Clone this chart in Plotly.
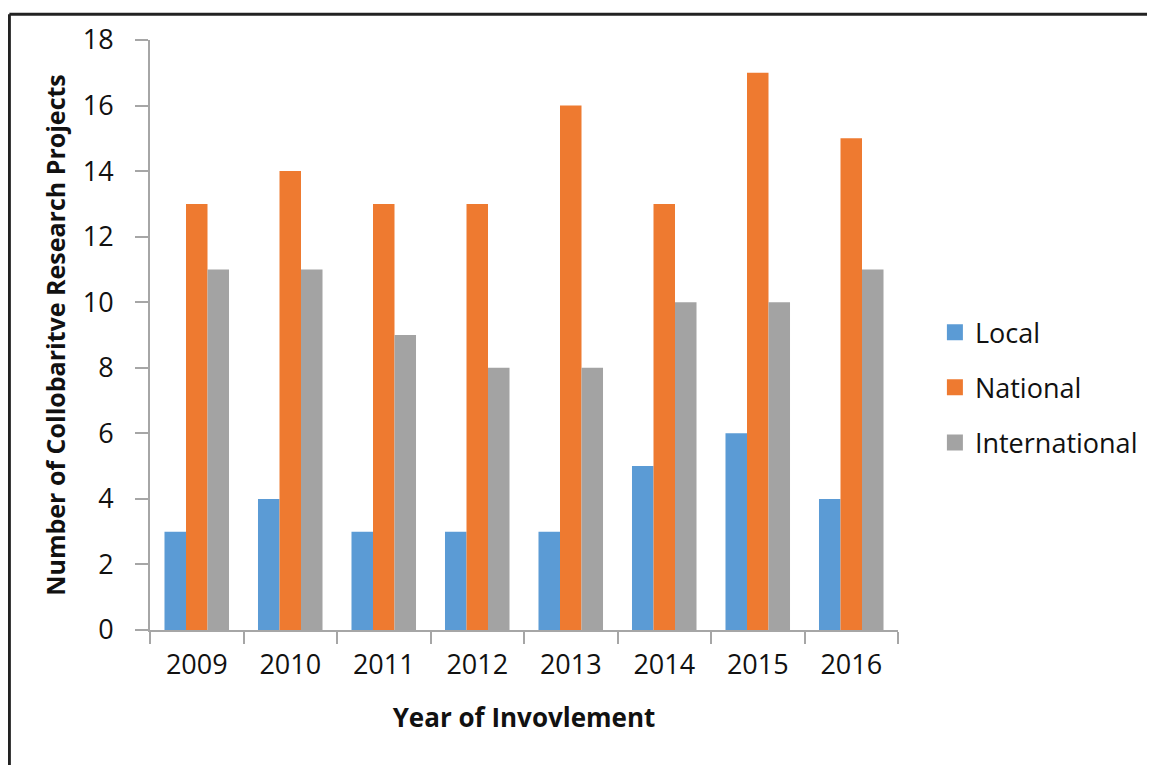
import plotly.graph_objects as go

years = ["2009", "2010", "2011", "2012", "2013", "2014", "2015", "2016"]
local = [3, 4, 3, 3, 3, 5, 6, 4]
national = [13, 14, 13, 13, 16, 13, 17, 15]
international = [11, 11, 9, 8, 8, 10, 10, 11]

series = [
    ("Local", local, "#5b9bd5"),
    ("National", national, "#ee7a30"),
    ("International", international, "#a3a3a3"),
]

FONT = "Open Sans"
OFF = 8  # page body margin
W, H = 1155 - OFF, 765 - OFF
L, R, T, B = 150 - OFF, 900 - OFF, 36 - OFF, 630 - OFF

def px_x(p):
    return (p - OFF - L) / (R - L)

def px_y(p):
    return (B - (p - OFF)) / (B - T)

fig = go.Figure()
for name, vals, col in series:
    fig.add_trace(go.Bar(
        x=years, y=vals, name=name, legendgroup=name, showlegend=False,
        marker=dict(color=col, line=dict(width=0)),
    ))
for name, vals, col in series:
    fig.add_trace(go.Scatter(
        x=[None], y=[None], mode="markers", name=name, legendgroup=name,
        marker=dict(symbol="square", size=20, color=col),
    ))

fig.update_layout(
    width=W, height=H,
    margin=dict(l=L, r=W - R, t=T, b=H - B, pad=0),
    paper_bgcolor="white", plot_bgcolor="white",
    barmode="group", bargap=0.31, bargroupgap=0,
    font=dict(family=FONT, color="#111111", size=27),
    legend=dict(
        x=px_x(937), y=px_y(386), xanchor="left", yanchor="middle",
        font=dict(family=FONT, size=27, color="#111111"),
        tracegroupgap=17, itemwidth=30,
    ),
    showlegend=True,
)

fig.update_xaxes(
    type="category", showline=True, linecolor="#a6a6a6", linewidth=2,
    ticks="outside", tickson="boundaries", ticklen=12, tickcolor="#a6a6a6", tickwidth=2,
    showgrid=False, zeroline=False, ticklabelstandoff=10,
    tickfont=dict(family=FONT, size=27, color="#111111"),
    title=dict(text="<b>Year of Invovlement</b>", font=dict(family=FONT, size=26, color="#111111"), standoff=27),
)
fig.update_yaxes(
    range=[0, 18], dtick=2, showline=True, linecolor="#a6a6a6", linewidth=2,
    ticks="outside", ticklen=13, tickcolor="#a6a6a6", tickwidth=2,
    showgrid=False, zeroline=False, ticklabelstandoff=16,
    tickfont=dict(family=FONT, size=27, color="#111111"),
    title=dict(text="<b>Number of Collobaritve Research Projects</b>", font=dict(family=FONT, size=25, color="#111111"), standoff=10),
)

# outer frame (top and left edges visible)
fig.add_shape(type="line", xref="paper", yref="paper",
              x0=px_x(9), x1=px_x(1170), y0=px_y(10), y1=px_y(10),
              line=dict(color="#222222", width=3))
fig.add_shape(type="line", xref="paper", yref="paper",
              x0=px_x(9), x1=px_x(9), y0=px_y(10), y1=px_y(780),
              line=dict(color="#222222", width=3))

fig.write_html("out.html")
